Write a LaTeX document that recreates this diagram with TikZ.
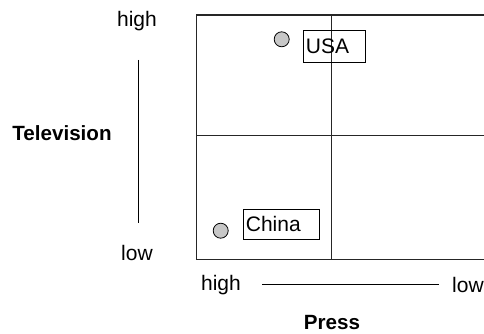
\documentclass[tikz,border=0pt]{standalone}
\usepackage{fontspec}
\setmainfont{Liberation Sans}
\begin{document}
\begin{tikzpicture}[x=1pt,y=-1pt,
  lbl/.style={font=\fontsize{21}{24}\selectfont, inner sep=0pt},
  ttl/.style={font=\fontsize{20.6}{24}\selectfont\bfseries, inner sep=0pt},
  grid/.style={line width=1.3pt, draw=black!85},
  axis/.style={line width=1pt},
  dot/.style={circle, draw, line width=0.8pt, fill=black!22, minimum size=15pt, inner sep=0pt},
  tag/.style={draw, line width=0.8pt, font=\fontsize{21}{24}\selectfont, align=left, inner xsep=2.5pt, inner ysep=0pt, anchor=north west}]
\useasboundingbox (0,0) rectangle (484,334);
\clip (0,0) rectangle (484,334);
% grid
\draw[grid] (196.5,15) rectangle (500,259.5);
\draw[grid] (331.7,15) -- (331.7,259.5);
\draw[grid] (196.5,135.7) -- (500,135.7);
% vertical axis
\node[lbl] (thigh) at (137,21) {high};
\node[lbl] (tlow) at (137,253) {low};
\coordinate (vtop) at (138.7,60);
\coordinate (vbot) at (138.7,223);
\draw[axis] (vtop) -- (vbot);
\node[ttl] (tv) at (62,133) {Television};
% horizontal axis
\node[lbl] (phigh) at (221,285) {high};
\node[lbl, anchor=west] (plow) at (452,285) {low};
\coordinate (hl) at (262,284);
\coordinate (hr) at (438.5,284);
\draw[axis] (hl) -- (hr);
\node[ttl] (press) at (332,323) {Press};
% countries
\node[dot] (usadot) at (281.7,39.3) {};
\node[tag, minimum width=62pt, minimum height=32pt, text width=57pt] (usa) at (303,30) {USA};
\node[dot] (chinadot) at (220.7,230.7) {};
\node[tag, minimum width=76pt, minimum height=30pt, text width=71pt] (china) at (243,209) {China};
\end{tikzpicture}
\end{document}
